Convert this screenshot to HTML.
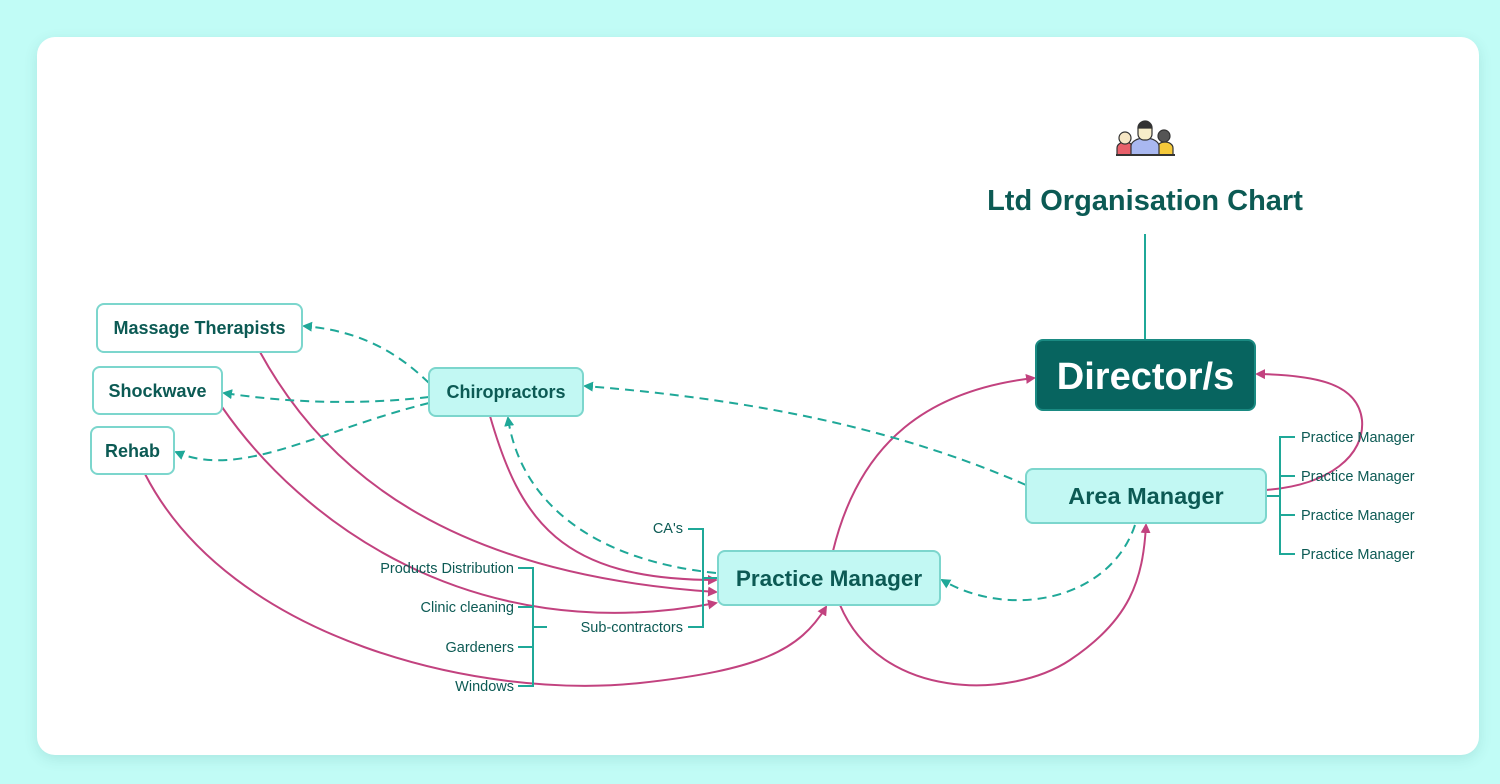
<!DOCTYPE html>
<html><head><meta charset="utf-8"><style>
html,body{margin:0;padding:0;width:1500px;height:784px;overflow:hidden;background:#c1fcf6;font-family:"Liberation Sans",sans-serif}
.card{position:absolute;left:37px;top:37px;width:1442px;height:718px;background:#fff;border-radius:18px;box-shadow:0 4px 14px rgba(0,80,80,0.12)}
svg{position:absolute;left:0;top:0}
</style></head><body>
<div class="card"></div>
<svg width="1500" height="784" viewBox="0 0 1500 784" xmlns="http://www.w3.org/2000/svg">
<defs>
<marker id="am" viewBox="0 0 10 10" refX="8" refY="5" markerWidth="5" markerHeight="5" orient="auto"><path d="M0,0 L10,5 L0,10 z" fill="#c2427f"/></marker>
<marker id="at" viewBox="0 0 10 10" refX="8" refY="5" markerWidth="5" markerHeight="5" orient="auto"><path d="M0,0 L10,5 L0,10 z" fill="#1fa898"/></marker>
</defs>
<g fill="none" stroke="#c2427f" stroke-width="2">
<path d="M260,352 C330,480 460,575 716,592" marker-end="url(#am)"/>
<path d="M222,407 C300,520 470,650 716,603" marker-end="url(#am)"/>
<path d="M490,416 C520,520 560,580 716,580" marker-end="url(#am)"/>
<path d="M145,474 C230,640 480,700 640,683 C760,670 800,650 826,607" marker-end="url(#am)"/>
<path d="M833,551 C860,440 930,390 1034,378" marker-end="url(#am)"/>
<path d="M840,605 C880,700 1010,700 1070,660 C1130,620 1143,580 1146,525" marker-end="url(#am)"/>
<path d="M1266,490 C1330,485 1365,455 1362,420 C1358,385 1320,375 1257,374" marker-end="url(#am)"/>
</g>
<g fill="none" stroke="#1fa898" stroke-width="2" stroke-dasharray="9,6">
<path d="M429,383 C390,345 350,330 304,326" marker-end="url(#at)"/>
<path d="M429,397 C360,405 290,403 224,393" marker-end="url(#at)"/>
<path d="M429,403 C320,430 240,480 176,452" marker-end="url(#at)"/>
<path d="M716,573 C590,560 520,500 508,418" marker-end="url(#at)"/>
<path d="M1026,485 C900,430 760,400 585,386" marker-end="url(#at)"/>
<path d="M1135,525 C1110,600 1010,620 942,580" marker-end="url(#at)"/>
</g>
<g fill="none" stroke="#1fa898" stroke-width="2">
<path d="M1145,234 V340"/>
<path d="M518,568 H533 V686 H518 M518,607 H533 M518,647 H533 M533,627 H547"/>
<path d="M688,627 H703 V529 H688 M703,578 H718"/>
<path d="M1266,496 H1280 M1295,437 H1280 V554 H1295 M1280,476 H1295 M1280,515 H1295"/>
</g>
<g stroke="#7cd6cd" stroke-width="2">
<rect x="97" y="304" width="205" height="48" rx="7" fill="#fff"/>
<rect x="93" y="367" width="129" height="47" rx="7" fill="#fff"/>
<rect x="91" y="427" width="83" height="47" rx="7" fill="#fff"/>
<rect x="429" y="368" width="154" height="48" rx="7" fill="#c2f8f3"/>
<rect x="718" y="551" width="222" height="54" rx="7" fill="#c2f8f3"/>
<rect x="1026" y="469" width="240" height="54" rx="7" fill="#c2f8f3"/>
<rect x="1036" y="340" width="219" height="70" rx="7" fill="#07645f" stroke="#1a8a82"/>
</g>
<g font-family="Liberation Sans, sans-serif" font-weight="bold" fill="#0c5a54" text-anchor="middle">
<text x="199.5" y="334" font-size="18">Massage Therapists</text>
<text x="157.5" y="397" font-size="18">Shockwave</text>
<text x="132.5" y="457" font-size="18">Rehab</text>
<text x="506" y="398" font-size="18">Chiropractors</text>
<text x="829" y="586" font-size="22.5">Practice Manager</text>
<text x="1146" y="504" font-size="23.5">Area Manager</text>
<text x="1145.5" y="389" font-size="38" fill="#fff">Director/s</text>
<text x="1145" y="210" font-size="29">Ltd Organisation Chart</text>
</g>
<g font-family="Liberation Sans, sans-serif" font-size="14.5" fill="#0c5a54">
<g text-anchor="end">
<text x="514" y="573">Products Distribution</text>
<text x="514" y="612">Clinic cleaning</text>
<text x="514" y="652">Gardeners</text>
<text x="514" y="691">Windows</text>
<text x="683" y="533">CA's</text>
<text x="683" y="632">Sub-contractors</text>
</g>
<text x="1301" y="442">Practice Manager</text>
<text x="1301" y="481">Practice Manager</text>
<text x="1301" y="520">Practice Manager</text>
<text x="1301" y="559">Practice Manager</text>
</g>
<g stroke="#333" stroke-width="1.2">
<path d="M1117,155 v-7 a8,6 0 0 1 16,0 v7 z" fill="#e8606a"/>
<circle cx="1125" cy="138" r="6" fill="#f6e6c4"/>
<path d="M1157,155 v-7 a8,6 0 0 1 16,0 v7 z" fill="#f5c93a"/>
<circle cx="1164" cy="136" r="6" fill="#555"/>
<path d="M1131,155 v-9 a14,8 0 0 1 28,0 v9 z" fill="#a9b8f0"/>
<rect x="1138" y="122" width="14" height="18" rx="6" fill="#f7edc9"/>
<path d="M1138,128 a7,7 0 0 1 14,0 z" fill="#333"/>
<path d="M1116,155 H1175" stroke-width="2"/>
</g>
</svg>
</body></html>
